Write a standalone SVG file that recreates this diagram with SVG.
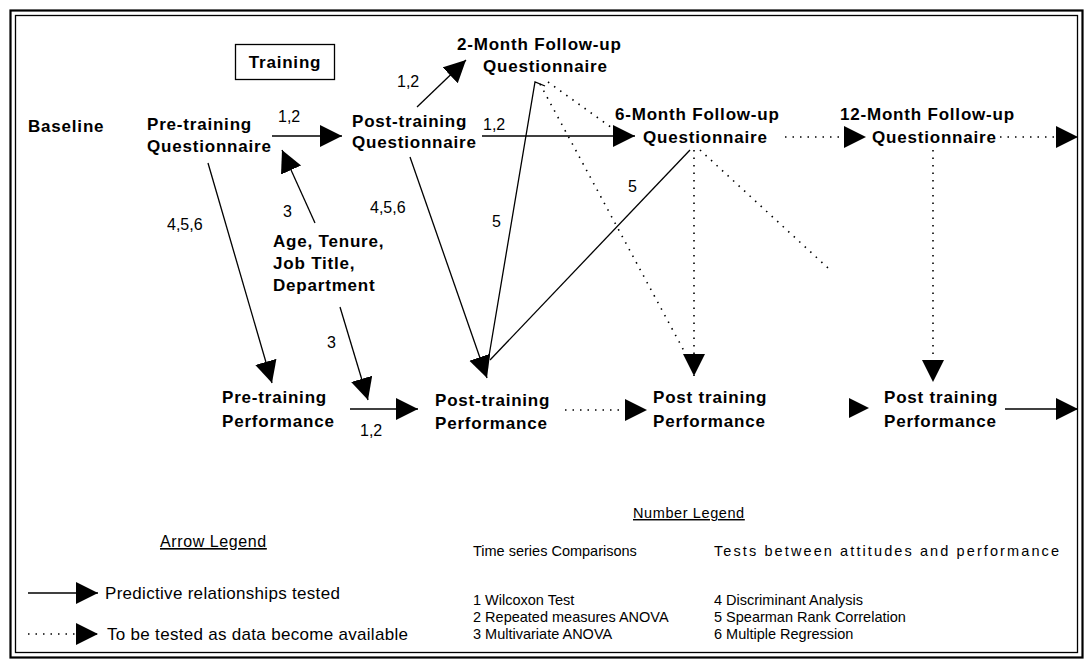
<svg xmlns="http://www.w3.org/2000/svg" width="1089" height="665" viewBox="0 0 1089 665">
<style>
.n{font-family:"Liberation Sans",Arial,sans-serif;font-weight:bold;font-size:17px;letter-spacing:0.8px;fill:#000}
.l{font-family:"Liberation Sans",Arial,sans-serif;font-size:16px;fill:#000}
.a{font-family:"Liberation Sans",Arial,sans-serif;font-size:17px;letter-spacing:0.3px;fill:#000}
.g{font-family:"Liberation Sans",Arial,sans-serif;font-size:14.5px;fill:#000}
.s{stroke:#000;stroke-width:1.3;fill:none}
.d{stroke:#000;stroke-width:1.6;fill:none;stroke-dasharray:1.5 6}
</style>
<defs>
<marker id="ah" markerUnits="userSpaceOnUse" markerWidth="24" markerHeight="24" refX="22" refY="11" orient="auto">
<path d="M0,0 L22,11 L0,22 Z" fill="#000"/>
</marker>
</defs>
<rect x="0" y="0" width="1089" height="665" fill="#fff"/>
<g id="frame">
<rect x="10.5" y="10.5" width="1072" height="647" fill="none" stroke="#000" stroke-width="2.2"/>
<rect x="15.5" y="15.5" width="1062" height="637" fill="none" stroke="#000" stroke-width="1.3"/>
</g>
<g id="connectors">
<line class="s" x1="272" y1="136" x2="342" y2="136" marker-end="url(#ah)"/>
<line class="s" x1="315" y1="223" x2="282" y2="150" marker-end="url(#ah)"/>
<line class="s" x1="208" y1="163" x2="272" y2="383" marker-end="url(#ah)"/>
<line class="s" x1="340" y1="307" x2="368" y2="400" marker-end="url(#ah)"/>
<line class="s" x1="350" y1="409" x2="418" y2="409" marker-end="url(#ah)"/>
<line class="s" x1="417" y1="107" x2="466" y2="60" marker-end="url(#ah)"/>
<line class="s" x1="482" y1="136" x2="635" y2="136" marker-end="url(#ah)"/>
<line class="s" x1="410" y1="157" x2="487" y2="378" marker-end="url(#ah)"/>
<polyline class="s" points="545,86 535,82 488,362"/>
<line class="s" x1="690" y1="150" x2="490" y2="360"/>
<line class="d" x1="565" y1="410" x2="647" y2="410" marker-end="url(#ah)"/>
<line class="d" x1="540" y1="84" x2="690" y2="362"/>
<line class="d" x1="548" y1="82" x2="612" y2="128"/>
<line class="d" x1="694" y1="150" x2="694" y2="376" marker-end="url(#ah)"/>
<line class="d" x1="785" y1="137" x2="866" y2="137" marker-end="url(#ah)"/>
<line class="d" x1="700" y1="150" x2="828" y2="268"/>
<line class="d" x1="933" y1="150" x2="933" y2="382" marker-end="url(#ah)"/>
<line class="d" x1="1000" y1="137" x2="1078" y2="137" marker-end="url(#ah)"/>
<path d="M849,398 L869,408 L849,418 Z" fill="#000"/>
<line class="s" x1="1005" y1="409" x2="1078" y2="409" marker-end="url(#ah)"/>
</g>
<g id="edge-labels" class="l">
<text x="278" y="122">1,2</text>
<text x="283" y="217">3</text>
<text x="167" y="230">4,5,6</text>
<text x="397" y="87">1,2</text>
<text x="483" y="130">1,2</text>
<text x="370" y="213">4,5,6</text>
<text x="492" y="227">5</text>
<text x="628" y="192">5</text>
<text x="327" y="348">3</text>
<text x="360" y="436">1,2</text>
</g>
<g id="training">
<rect x="235.5" y="44.5" width="99" height="35" fill="none" stroke="#000" stroke-width="1.3"/>
<text class="n" x="285" y="68" text-anchor="middle">Training</text>
</g>
<g id="baseline"><text class="n" x="28" y="132" letter-spacing="0">Baseline</text></g>
<g id="pre-q"><text class="n" x="147" y="130">Pre-training</text><text class="n" x="147" y="152">Questionnaire</text></g>
<g id="post-q"><text class="n" x="352" y="127">Post-training</text><text class="n" x="352" y="148">Questionnaire</text></g>
<g id="m2-q"><text class="n" x="457" y="50">2-Month Follow-up</text><text class="n" x="483" y="72">Questionnaire</text></g>
<g id="m6-q"><text class="n" x="615" y="120">6-Month Follow-up</text><text class="n" x="643" y="143">Questionnaire</text></g>
<g id="m12-q"><text class="n" x="840" y="120">12-Month Follow-up</text><text class="n" x="872" y="143">Questionnaire</text></g>
<g id="demographics"><text class="n" x="273" y="247" letter-spacing="1.8">Age, Tenure,</text><text class="n" x="273" y="269" letter-spacing="1.2">Job Title,</text><text class="n" x="273" y="291" letter-spacing="1.2">Department</text></g>
<g id="pre-perf"><text class="n" x="222" y="403">Pre-training</text><text class="n" x="222" y="427">Performance</text></g>
<g id="post-perf"><text class="n" x="435" y="406">Post-training</text><text class="n" x="435" y="429">Performance</text></g>
<g id="perf-6"><text class="n" x="653" y="403">Post training</text><text class="n" x="653" y="427">Performance</text></g>
<g id="perf-12"><text class="n" x="884" y="403">Post training</text><text class="n" x="884" y="427">Performance</text></g>
<g id="arrow-legend">
<text class="l" x="160" y="547" letter-spacing="0.6" text-decoration="underline">Arrow Legend</text>
<line class="s" x1="28" y1="593" x2="98" y2="593" marker-end="url(#ah)"/>
<text class="a" x="105" y="599">Predictive relationships tested</text>
<line class="d" x1="28" y1="634" x2="98" y2="634" marker-end="url(#ah)"/>
<text class="a" x="107" y="640">To be tested as data become available</text>
</g>
<g id="number-legend" class="g">
<text x="633" y="518" letter-spacing="0.6" text-decoration="underline">Number Legend</text>
<text x="473" y="556">Time series Comparisons</text>
<text x="714" y="556" textLength="345" lengthAdjust="spacing">Tests between attitudes and performance</text>
<text x="473" y="605">1  Wilcoxon Test</text>
<text x="473" y="622">2  Repeated measures ANOVA</text>
<text x="473" y="639">3  Multivariate ANOVA</text>
<text x="714" y="605">4  Discriminant Analysis</text>
<text x="714" y="622">5  Spearman Rank Correlation</text>
<text x="714" y="639">6  Multiple Regression</text>
</g>
</svg>
